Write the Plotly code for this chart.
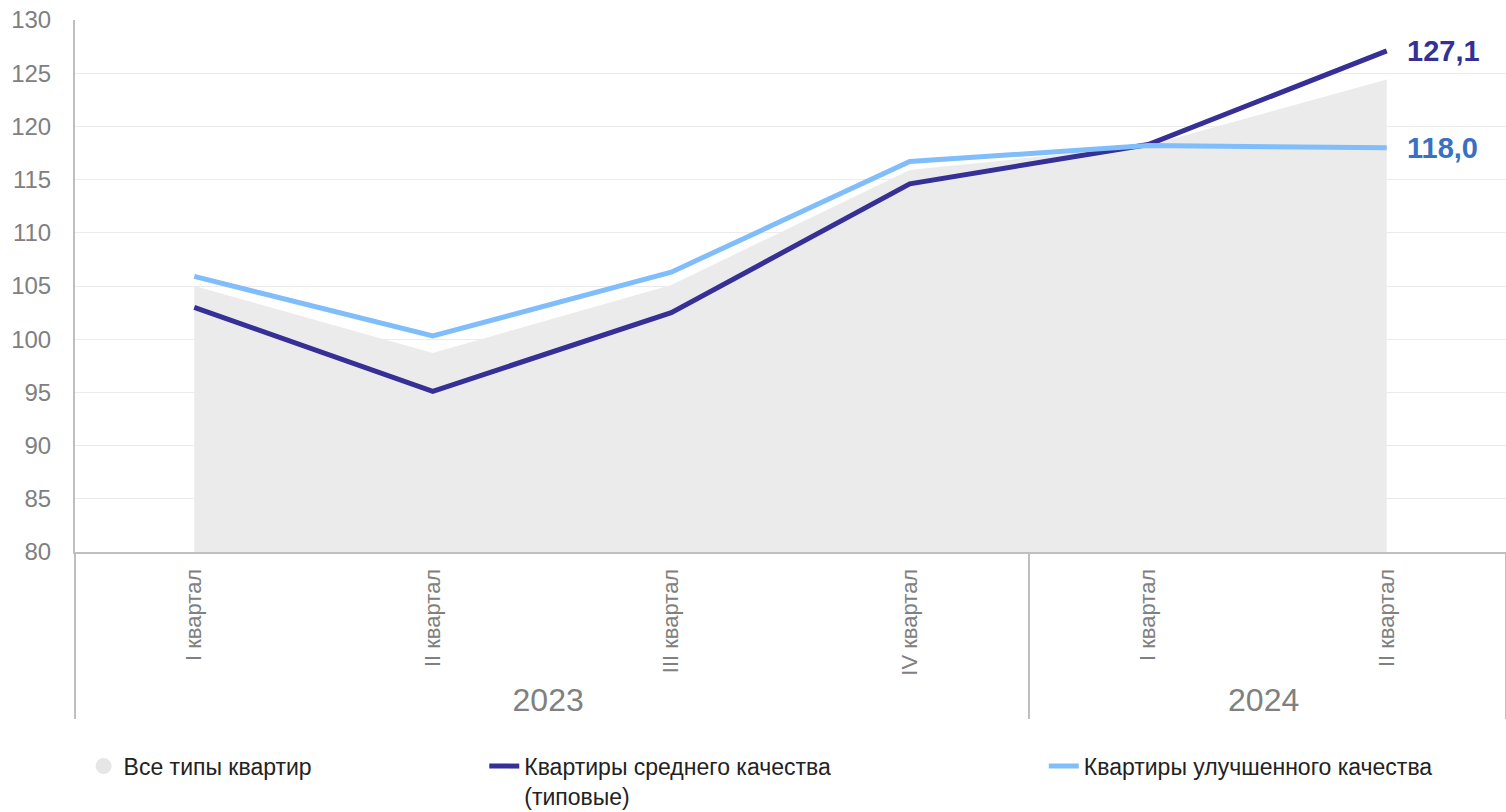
import plotly.graph_objects as go

years = ["2023", "2023", "2023", "2023", "2024", "2024"]
quarters = ["I квартал", "II квартал", "III квартал", "IV квартал", "I квартал", "II квартал"]

all_types = [105.0, 98.7, 105.1, 115.9, 118.2, 124.4]
mid_quality = [103.0, 95.1, 102.5, 114.6, 118.3, 127.1]
improved_quality = [105.9, 100.3, 106.3, 116.7, 118.2, 118.0]

name_all = "Все типы квартир"
name_mid = "Квартиры среднего качества<br>(типовые)"
name_imp = "Квартиры улучшенного качества"

C_AREA = "#ebebeb"
C_MID = "#352f96"
C_IMP = "#80bdfb"
C_IMP_LBL = "#3a70c2"
GRAY = "#808080"
FONT = "Liberation Sans, Arial, sans-serif"

year_labels = ['<span style="font-size:32px">%s</span>' % y for y in years]
x = [year_labels, quarters]

fig = go.Figure()
fig.add_trace(go.Scatter(x=x, y=all_types, mode="lines", fill="tozeroy",
                         fillcolor=C_AREA, line=dict(width=0, color=C_AREA),
                         showlegend=False, hoverinfo="skip"))
# legend proxy for the area series (circle symbol)
fig.add_trace(go.Scatter(x=[None], y=[None], mode="markers", name=name_all,
                         marker=dict(symbol="circle", size=30, color="#e6e6e6"),
                         legend="legend"))
fig.add_trace(go.Scatter(x=x, y=mid_quality, mode="lines", name=name_mid,
                         line=dict(color=C_MID, width=5), legend="legend2"))
fig.add_trace(go.Scatter(x=x, y=improved_quality, mode="lines", name=name_imp,
                         line=dict(color=C_IMP, width=5), legend="legend3"))

last_x = [x[0][-1], x[1][-1]]
fig.add_annotation(x=last_x, y=mid_quality[-1], xref="x", yref="y",
                   text="<b>" + f"{mid_quality[-1]:.1f}".replace(".", ",") + "</b>",
                   showarrow=False, xanchor="left", xshift=18,
                   font=dict(size=29, color=C_MID, family=FONT))
fig.add_annotation(x=last_x, y=improved_quality[-1], xref="x", yref="y",
                   text="<b>" + f"{improved_quality[-1]:.1f}".replace(".", ",") + "</b>",
                   showarrow=False, xanchor="left", xshift=18,
                   font=dict(size=29, color=C_IMP_LBL, family=FONT))

legend_common = dict(orientation="h", xref="paper", yref="container",
                     font=dict(size=23, color="#222222", family=FONT),
                     bgcolor="rgba(0,0,0,0)", yanchor="top", xanchor="left",
                     valign="top", itemsizing="trace")
fig.update_layout(
    width=1506, height=812,
    margin=dict(l=75, r=0, t=20, b=260, autoexpand=False),
    plot_bgcolor="white", paper_bgcolor="white",
    font=dict(family=FONT, color=GRAY),
    legend=dict(x=0.006, y=0.083, **legend_common),
    legend2=dict(x=0.286, y=0.083, **legend_common),
    legend3=dict(x=0.677, y=0.083, **legend_common),
    xaxis=dict(type="multicategory", range=[-0.5, 5.5], tickangle=-90, showline=True,
               linecolor="#bfbfbf", linewidth=2, showgrid=False, ticks="",
               showdividers=True, dividercolor="#bfbfbf", dividerwidth=2,
               automargin=False, ticklabelstandoff=6,
               tickfont=dict(size=22, color=GRAY, family=FONT)),
    yaxis=dict(range=[80, 130], dtick=5, showline=True, linecolor="#bfbfbf", linewidth=2,
               gridcolor="#ebebeb", gridwidth=1, zeroline=False, automargin=False,
               ticks="outside", ticklen=17, tickcolor="rgba(0,0,0,0)",
               ticklabeloverflow="allow",
               tickfont=dict(size=24, color=GRAY, family=FONT)),
)

# remove the default page margin so the figure fills the window exactly
fig.write_html("out.html", config={"displayModeBar": False},
               post_script="document.body.style.margin='0';")
